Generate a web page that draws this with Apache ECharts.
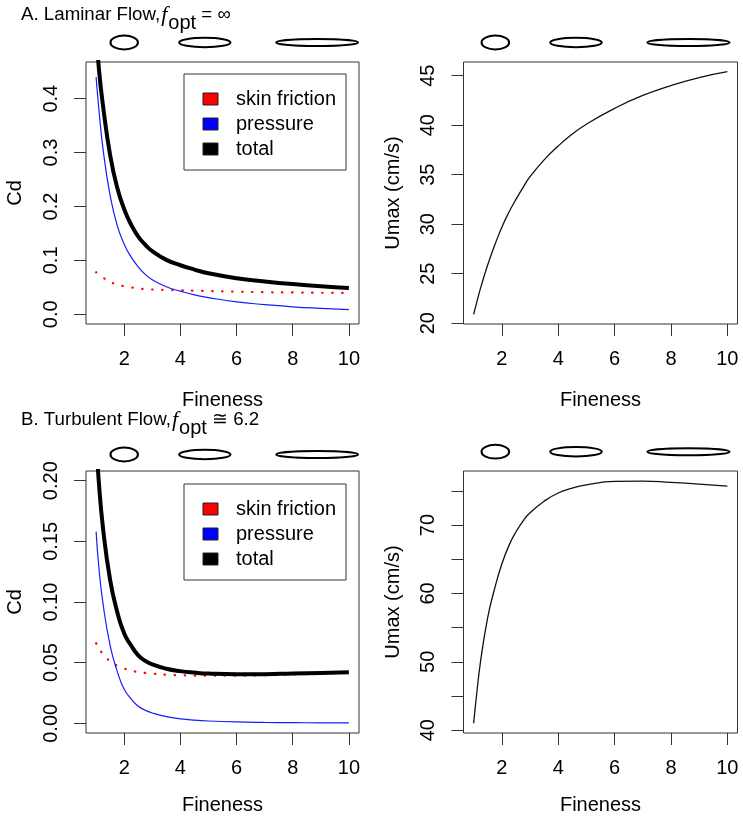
<!DOCTYPE html>
<html><head><meta charset="utf-8">
<script src="https://cdn.jsdelivr.net/npm/echarts@6/dist/echarts.min.js"></script>
<style>html,body{margin:0;padding:0;background:#fff}#c{width:743px;height:819px}</style>
</head><body><div id="c"></div>
<script>
// ---- data ----
const fineness = [1, 1.1, 1.25, 1.5, 1.75, 2, 2.25, 2.5, 2.75, 3, 3.5, 4, 4.5, 5, 6, 7, 8, 9, 10];
// A. laminar
const lamSkin  = [0.078, 0.073, 0.068, 0.060, 0.0555, 0.052, 0.0498, 0.048, 0.0468, 0.046, 0.0453, 0.0446, 0.0438, 0.0432, 0.042, 0.041, 0.0405, 0.040, 0.0395];
const lamPress = [0.440, 0.380, 0.305, 0.220, 0.165, 0.130, 0.106, 0.088, 0.074, 0.064, 0.051, 0.043, 0.036, 0.031, 0.023, 0.018, 0.0138, 0.011, 0.0088];
const lamTotal = [0.530, 0.455, 0.385, 0.295, 0.235, 0.195, 0.166, 0.144, 0.129, 0.117, 0.101, 0.091, 0.083, 0.076, 0.067, 0.061, 0.056, 0.052, 0.049];
const lamUmax  = [20.9, 22.0, 23.6, 25.9, 27.9, 29.7, 31.2, 32.5, 33.7, 34.8, 36.5, 37.9, 39.1, 40.1, 41.7, 43.0, 44.0, 44.8, 45.4];
// B. turbulent
const turbSkin  = [0.066, 0.062, 0.057, 0.051, 0.0475, 0.0452, 0.0435, 0.0422, 0.0415, 0.041, 0.040, 0.0396, 0.0393, 0.0392, 0.0392, 0.0396, 0.0402, 0.041, 0.0417];
const turbPress = [0.158, 0.128, 0.098, 0.064, 0.043, 0.028, 0.020, 0.014, 0.0108, 0.0085, 0.0055, 0.0037, 0.0026, 0.0019, 0.0011, 0.0007, 0.0005, 0.0004, 0.0003];
const turbTotal = [0.235, 0.198, 0.160, 0.118, 0.092, 0.074, 0.064, 0.056, 0.0515, 0.0485, 0.045, 0.043, 0.0418, 0.041, 0.0404, 0.0405, 0.041, 0.0415, 0.042];
const turbUmax  = [41.0, 45.0, 50.2, 56.5, 60.8, 64.3, 67.0, 69.0, 70.6, 71.8, 73.5, 74.7, 75.4, 75.9, 76.4, 76.45, 76.25, 76.0, 75.7];
// ticks / labels
const xTicks = [2, 4, 6, 8, 10];
const cdLamTicks = [0, 0.1, 0.2, 0.3, 0.4];
const umaxLamTicks = [20, 25, 30, 35, 40, 45];
const cdTurbTicks = [0, 0.05, 0.10, 0.15, 0.20];
const umaxTurbTicks = [40, 45, 50, 55, 60, 65, 70, 75];
const umaxTurbLabels = [40, 50, 60, 70];
const legendNames = ['skin friction', 'pressure', 'total'];
// body outline sketches above each panel (centre on fineness axis, length in fineness units, length/diameter)
const shapeCenterLeft = [2.0, 4.87, 8.87];
const shapeCenterRight = [1.77, 4.63, 8.62];
const shapeLength = [0.98, 1.83, 2.92];
const shapeAspect = [2.0, 5.5, 11.8];

// ---- chart ----
const FONT = "'Liberation Sans', Arial, Helvetica, sans-serif";
const AX = '#333';
const SMOOTH = 0.5;
const pair = (xs, ys) => xs.map((x, i) => [x, ys[i]]);
const chart = echarts.init(document.getElementById('c'), null, {renderer: 'canvas'});

const yRange = [[-0.018, 0.468], [19.92, 46.38], [-0.008, 0.208], [39.58, 77.92]];

function xAxis(gi, gap) {
  return {
    type: 'value', gridIndex: gi, min: 0.64, max: 10.36,
    axisLine: {show: false, onZero: false},
    axisTick: {show: true, length: 12, customValues: xTicks, lineStyle: {color: AX, width: 1}},
    axisLabel: {customValues: xTicks, margin: 25, fontSize: 20, color: '#000', fontFamily: FONT},
    splitLine: {show: false},
    name: 'Fineness', nameLocation: 'middle', nameGap: gap,
    nameTextStyle: {fontSize: 20, color: '#000', fontFamily: FONT}
  };
}
function yAxis(gi, ticks, labels, fmt, name, gap) {
  return {
    type: 'value', gridIndex: gi, min: yRange[gi][0], max: yRange[gi][1],
    axisLine: {show: false, onZero: false},
    axisTick: {show: true, length: 12, customValues: ticks, lineStyle: {color: AX, width: 1}},
    axisLabel: {customValues: labels, rotate: 90, margin: 25, fontSize: 20, color: '#000', fontFamily: FONT, formatter: fmt},
    splitLine: {show: false},
    name: name, nameLocation: 'middle', nameGap: gap,
    nameTextStyle: {fontSize: 20, color: '#000', fontFamily: FONT}
  };
}
function cdSeries(gi, skin, press, total) {
  return [
    {name: 'skin friction', type: 'line', xAxisIndex: gi, yAxisIndex: gi, data: pair(fineness, skin),
     symbol: 'none', smooth: SMOOTH, color: '#ff0000',
     itemStyle: {color: '#ff0000'},
     lineStyle: {color: '#ff0000', width: 2.2, type: [0.5, 9.5], cap: 'round'}},
    {name: 'pressure', type: 'line', xAxisIndex: gi, yAxisIndex: gi, data: pair(fineness, press),
     symbol: 'none', smooth: SMOOTH, color: '#0000ff',
     itemStyle: {color: '#0000ff'},
     lineStyle: {color: '#1a1aff', width: 1.2}},
    {name: 'total', type: 'line', xAxisIndex: gi, yAxisIndex: gi, data: pair(fineness, total),
     symbol: 'none', smooth: SMOOTH, color: '#000',
     itemStyle: {color: '#000'},
     lineStyle: {color: '#000', width: 4}}
  ];
}
function umaxSeries(gi, vals) {
  return {type: 'line', xAxisIndex: gi, yAxisIndex: gi, data: pair(fineness, vals),
    symbol: 'none', smooth: SMOOTH, lineStyle: {color: '#111', width: 1.3}, silent: true};
}
const shapeOffset = [19.5, 19.5, 16.5, 19.3];
function shapeSeries(gi, centers) {
  return {
    type: 'custom', xAxisIndex: gi, yAxisIndex: gi, clip: false, silent: true, z: 10,
    dimensions: ['center', 'length', 'aspect'], encode: {x: 0},
    data: centers.map((c, i) => [c, shapeLength[i], shapeAspect[i]]),
    renderItem: function (params, api) {
      const cx = api.coord([api.value(0), yRange[gi][0]])[0];
      const rx = api.size([api.value(1), 0])[0] / 2;
      const ry = rx / api.value(2);
      const cy = params.coordSys.y - shapeOffset[gi];
      return {type: 'ellipse', shape: {cx: cx, cy: cy, rx: rx, ry: ry},
              style: {fill: 'none', stroke: '#000', lineWidth: 2}};
    }
  };
}
function legend(top) {
  return {
    orient: 'vertical', left: 184, top: top, icon: 'rect', itemWidth: 15, itemHeight: 12, itemGap: 5,
    padding: [15, 10, 11, 18.5], borderColor: AX, borderWidth: 1, backgroundColor: '#fff',
    selectedMode: false, data: legendNames,
    itemStyle: {borderColor: '#222', borderWidth: 1},
    textStyle: {fontSize: 20, color: '#000', fontFamily: FONT, lineHeight: 20, padding: [0, 0, 0, 13]}
  };
}
const rich = {
  a: {fontFamily: FONT, fontSize: 18.7, fontWeight: 'normal', color: '#000', padding: [0, 0, 16, 0]},
  f: {fontFamily: "'Liberation Serif', 'Times New Roman', serif", fontStyle: 'italic', fontWeight: 'normal', fontSize: 22, color: '#000', padding: [0, 1, 16, 1]},
  s: {fontFamily: FONT, fontSize: 20, fontWeight: 'normal', color: '#000'}
};
const titleText = {fontWeight: 'normal', fontSize: 18.7, fontFamily: FONT, color: '#000', rich: rich};

const gridBase = {show: true, borderColor: AX, borderWidth: 1, backgroundColor: 'transparent', containLabel: false};
chart.setOption({
  animation: false,
  backgroundColor: '#fff',
  title: [
    {left: 21, top: 4, padding: 0, text: '{a|A. Laminar Flow,}{f|f}{s|opt}{a| = ∞}', textStyle: titleText},
    {left: 21, top: 409, padding: 0, text: '{a|B. Turbulent Flow,}{f|f}{s|opt}{a| ≅ 6.2}', textStyle: titleText}
  ],
  legend: [legend(74), legend(484)],
  grid: [
    Object.assign({left: 86, top: 62, width: 273, height: 262}, gridBase),
    Object.assign({left: 463.5, top: 62, width: 274, height: 262}, gridBase),
    Object.assign({left: 86, top: 471, width: 273, height: 262}, gridBase),
    Object.assign({left: 463.5, top: 471, width: 274, height: 262}, gridBase)
  ],
  xAxis: [xAxis(0, 66), xAxis(1, 66), xAxis(2, 62.5), xAxis(3, 62.5)],
  yAxis: [
    yAxis(0, cdLamTicks, cdLamTicks, v => v.toFixed(1), 'Cd', 61),
    yAxis(1, umaxLamTicks, umaxLamTicks, v => String(v), 'Umax (cm/s)', 60),
    yAxis(2, cdTurbTicks, cdTurbTicks, v => v.toFixed(2), 'Cd', 61),
    yAxis(3, umaxTurbTicks, umaxTurbLabels, v => String(v), 'Umax (cm/s)', 60)
  ],
  series: [].concat(
    cdSeries(0, lamSkin, lamPress, lamTotal),
    [umaxSeries(1, lamUmax)],
    cdSeries(2, turbSkin, turbPress, turbTotal),
    [umaxSeries(3, turbUmax)],
    [shapeSeries(0, shapeCenterLeft), shapeSeries(1, shapeCenterRight),
     shapeSeries(2, shapeCenterLeft), shapeSeries(3, shapeCenterRight)]
  )
});
</script></body></html>
